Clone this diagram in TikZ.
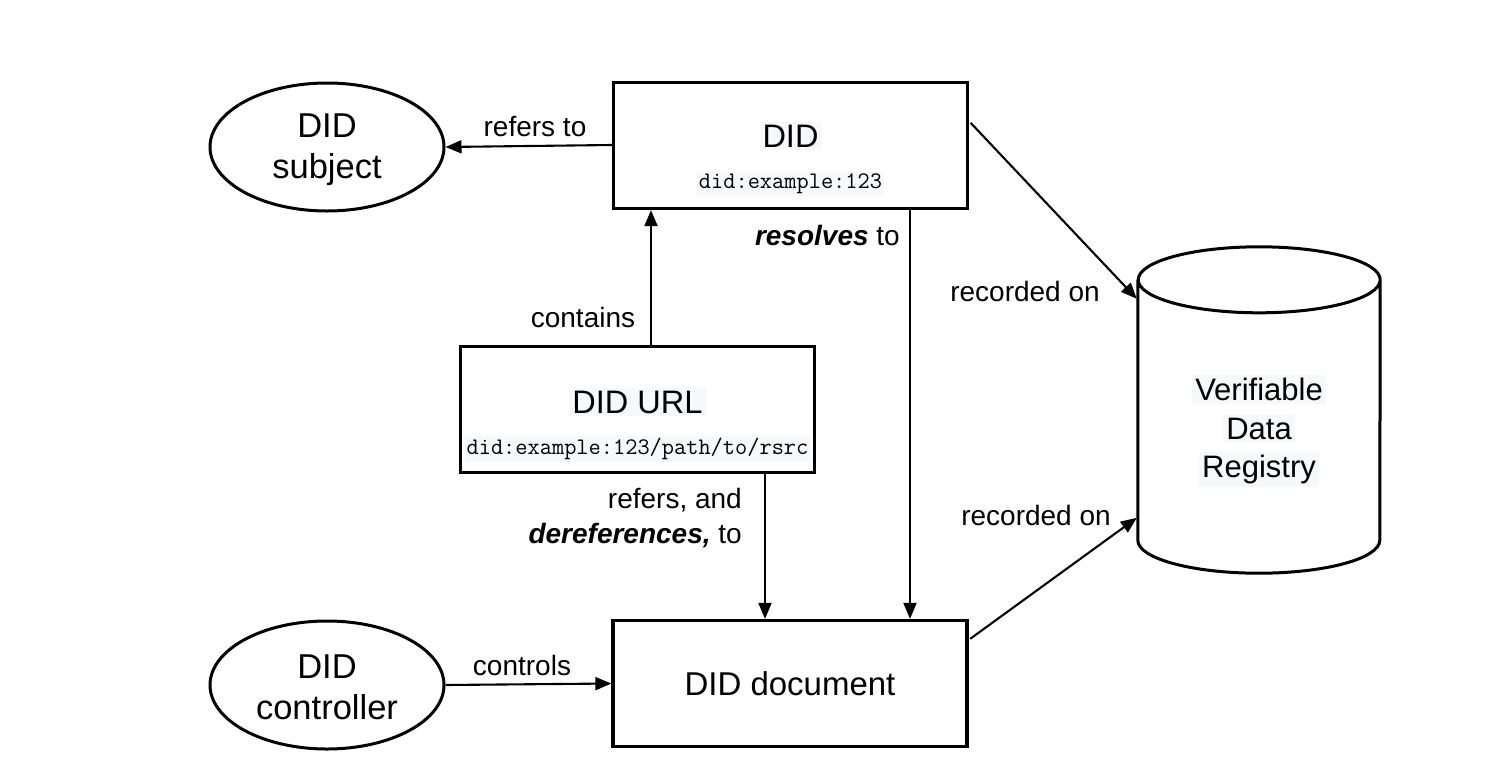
\documentclass[tikz,border=0pt]{standalone}
\usepackage{fontspec}
\setmainfont{Liberation Sans}
\usetikzlibrary{arrows.meta,calc,shapes.geometric}
\definecolor{hl}{RGB}{247,248,249}
\tikzset{
  box/.style={draw, line width=3.3pt, minimum width=354pt, minimum height=126pt, inner sep=0pt},
  ell/.style={draw, ellipse, line width=3pt, minimum width=234pt, minimum height=128pt, inner sep=0pt},
  title/.style={font=\fontsize{32.5}{37}\selectfont, fill=hl, inner sep=3pt},
  etext/.style={font=\fontsize{34.5}{41}\selectfont, align=center, inner sep=0pt},
  mono/.style={font=\ttfamily\fontsize{23.7}{26}\selectfont, fill=hl, inner sep=2pt},
  lab/.style={font=\fontsize{28}{35}\selectfont, inner sep=0pt},
  arr/.style={line width=2.1pt, -{Triangle[length=16pt,width=13pt]}},
}
\begin{document}
\begin{tikzpicture}[x=1pt,y=-1pt]
\useasboundingbox (0,0) rectangle (1510,766);
% boxes
\node[box] (did) at (790.5,145.5) {};
\node[title] (didt) at (790.5,136) {DID};
\node[mono] (didm) at (790.5,184) {did:example:123};
\node[box] (url) at (637.5,409.5) {};
\node[title] (urlt) at (637.5,402) {DID URL};
\node[mono] (urlm) at (637.5,449) {did:example:123/path/to/rsrc};
\node[box] (doc) at (790,683.5) {};
\node[font=\fontsize{33}{37}\selectfont, inner sep=0pt] (doct) at (790,684) {DID document};
% ellipses
\node[ell] (subj) at (327,147) {};
\node[etext] (subjt) at (327,150) {DID\\subject};
\node[ell] (ctrl) at (327,685) {};
\node[etext] (ctrlt) at (327,687) {DID\\controller};
% cylinder
\node[minimum width=242pt, minimum height=326pt, inner sep=0pt] (vdr) at (1259,410) {};
\draw[line width=3pt]
  ($(vdr.north west)+(0,33)$) -- ($(vdr.south west)+(0,-33)$)
  arc[x radius=121pt, y radius=33pt, start angle=180, end angle=360]
  -- ($(vdr.north east)+(0,33)$)
  arc[x radius=121pt, y radius=33pt, start angle=0, end angle=-180]
  arc[x radius=121pt, y radius=33pt, start angle=180, end angle=0];
\node[font=\fontsize{31}{38.5}\selectfont, align=center, inner sep=0pt] (vdrt) at (1259,431) {\colorbox{hl}{Verifiable}\\\colorbox{hl}{Data}\\\colorbox{hl}{Registry}};
% connectors
\draw[arr] (did.west |- 0,145) -- (subj.east);
\node[lab] (l1) at (535,127) {refers to};
\draw[arr] (url.north -| 651,0) -- (did.south -| 651,0);
\node[lab] (l2) at (583,317) {contains};
\draw[arr] (did.south -| 910,0) -- (doc.north -| 910,0);
\node[lab, anchor=east] (l3) at (900,235) {\textbf{\textit{resolves}} to};
\draw[arr] (url.south -| 765,0) -- (doc.north -| 765,0);
\node[lab, anchor=east, align=right] (l4) at (742,518) {refers, and\\\textbf{\textit{dereferences,}} to};
\draw[arr] ($(did.north east)+(1.5,42)$) -- ($(vdr.north west)+(-1,52)$);
\node[lab] (l5) at (1025,291) {recorded on};
\draw[arr] ($(doc.north east)+(1.5,20)$) -- ($(vdr.north west)+(-1,271)$);
\node[lab] (l6) at (1036,515) {recorded on};
\draw[arr] (ctrl.east) -- (doc.west);
\node[lab] (l7) at (522,665) {controls};
\end{tikzpicture}
\end{document}
